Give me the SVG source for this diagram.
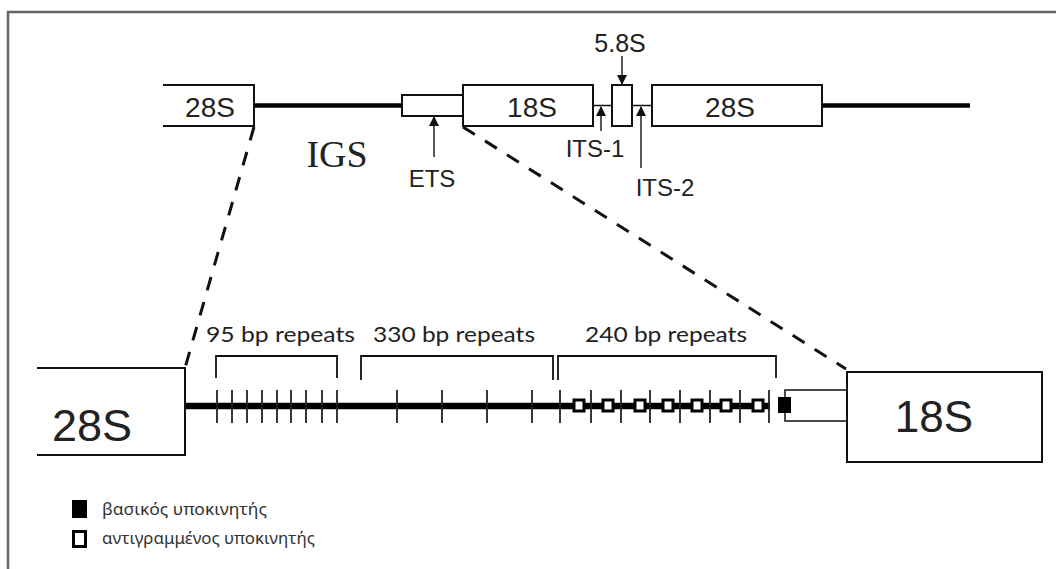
<svg xmlns="http://www.w3.org/2000/svg" width="1056" height="569" viewBox="0 0 1056 569">
<style>
.box{fill:#fff;stroke:#111;stroke-width:2}
.ln{fill:none;stroke:#111;stroke-width:2}
.thin{fill:none;stroke:#111;stroke-width:1.5}
.thick{stroke:#000;stroke-width:4.5}
.main{stroke:#000;stroke-width:6.5}
.tick{stroke:#222;stroke-width:1.8}
.dash{stroke:#111;stroke-width:3;stroke-dasharray:14 12;fill:none}
.arr{stroke:#222;stroke-width:1.5;fill:none;marker-end:url(#ah)}
.sans{font-family:"Liberation Sans",Arial,sans-serif;fill:#222}
.hum{font-family:Lato,"Open Sans",sans-serif;fill:#222}
.leg{font-family:"Noto Sans","DejaVu Sans",sans-serif;fill:#333;font-size:17px}
.rep{fill:#fff;stroke:#000;stroke-width:3}
</style>
<defs>
<marker id="ah" markerWidth="10" markerHeight="10" refX="9" refY="5" orient="auto" markerUnits="userSpaceOnUse">
<path d="M0,0 L10,5 L0,10 z" fill="#111"/>
</marker>
</defs>
<rect x="0" y="0" width="1056" height="569" fill="#fff"/>
<path d="M8,569 L8,12 L1056,12" fill="none" stroke="#666" stroke-width="2.5"/>

<g id="connectors">
<line class="thick" x1="254" y1="105.5" x2="402" y2="105.5"/>
<line class="thin" x1="593" y1="105.5" x2="612" y2="105.5"/>
<line class="thin" x1="632" y1="105.5" x2="652" y2="105.5"/>
<line class="thick" x1="822" y1="105.5" x2="970" y2="105.5"/>
<line class="dash" x1="254" y1="127" x2="185" y2="368"/>
<line class="dash" x1="463" y1="127" x2="846" y2="369"/>
<line class="arr" x1="434" y1="157" x2="434" y2="117"/>
<line class="arr" x1="601" y1="131" x2="601" y2="107"/>
<line class="arr" x1="641" y1="168" x2="641" y2="107"/>
<line class="arr" x1="622" y1="56" x2="622" y2="84"/>
<line class="main" x1="185" y1="406" x2="770" y2="406"/>
</g>

<g id="top-28S-left">
<path class="ln" d="M163,85 L254,85 L254,126 L163,126"/>
<text class="sans" x="210" y="117" font-size="28" text-anchor="middle">28S</text>
</g>
<g id="ETS">
<rect class="box" x="402" y="95" width="61" height="21"/>
<text class="sans" x="432" y="187" font-size="24" text-anchor="middle">ETS</text>
</g>
<g id="IGS">
<text x="337" y="167" font-family="'Liberation Serif','Times New Roman',serif" font-size="38" fill="#222" text-anchor="middle">IGS</text>
</g>
<g id="top-18S">
<rect class="box" x="463" y="85" width="130" height="41"/>
<text class="sans" x="532" y="117" font-size="28" text-anchor="middle">18S</text>
</g>
<g id="ITS-1">
<text class="sans" x="595" y="157" font-size="24" text-anchor="middle">ITS-1</text>
</g>
<g id="top-5.8S">
<rect class="box" x="612" y="85" width="20" height="41"/>
<text class="sans" x="620" y="52" font-size="25" text-anchor="middle">5.8S</text>
</g>
<g id="ITS-2">
<text class="sans" x="665" y="196" font-size="24" text-anchor="middle">ITS-2</text>
</g>
<g id="top-28S-right">
<rect class="box" x="652" y="85" width="170" height="41"/>
<text class="sans" x="730" y="117" font-size="28" text-anchor="middle">28S</text>
</g>

<g id="bottom-28S">
<path class="ln" d="M37,368 L185,368 L185,455 L37,455"/>
<text class="sans" x="92" y="441" font-size="45" text-anchor="middle">28S</text>
</g>

<g id="repeats-95">
<path class="ln" style="stroke-width:1.8" d="M216,378 L216,356 L337,356 L337,378"/>
<text class="hum" x="206" y="342" font-size="21" textLength="149" lengthAdjust="spacingAndGlyphs">95 bp repeats</text>
<g class="tick">
<line x1="217" y1="390" x2="217" y2="423"/><line x1="232" y1="390" x2="232" y2="423"/>
<line x1="247" y1="390" x2="247" y2="423"/><line x1="262" y1="390" x2="262" y2="423"/>
<line x1="277" y1="390" x2="277" y2="423"/><line x1="291" y1="390" x2="291" y2="423"/>
<line x1="306" y1="390" x2="306" y2="423"/><line x1="322" y1="390" x2="322" y2="423"/>
<line x1="337" y1="390" x2="337" y2="423"/>
</g>
</g>

<g id="repeats-330">
<path class="ln" style="stroke-width:1.8" d="M361,380 L361,356 L553,356 L553,380"/>
<text class="hum" x="373" y="342" font-size="21" textLength="162" lengthAdjust="spacingAndGlyphs">330 bp repeats</text>
<g class="tick">
<line x1="397" y1="390" x2="397" y2="423"/><line x1="442" y1="390" x2="442" y2="423"/>
<line x1="487" y1="390" x2="487" y2="423"/><line x1="532" y1="390" x2="532" y2="423"/>
</g>
</g>

<g id="repeats-240">
<path class="ln" style="stroke-width:1.8" d="M558,380 L558,356 L776,356 L776,378"/>
<text class="hum" x="585" y="342" font-size="21" textLength="162" lengthAdjust="spacingAndGlyphs">240 bp repeats</text>
<g class="tick">
<line x1="560" y1="390" x2="560" y2="423"/><line x1="591" y1="390" x2="591" y2="423"/>
<line x1="621" y1="390" x2="621" y2="423"/><line x1="650" y1="390" x2="650" y2="423"/>
<line x1="680" y1="390" x2="680" y2="423"/><line x1="710" y1="390" x2="710" y2="423"/>
<line x1="740" y1="390" x2="740" y2="423"/><line x1="769" y1="390" x2="769" y2="423"/>
</g>
<g class="rep">
<rect x="574" y="400" width="10" height="11"/><rect x="603" y="400" width="10" height="11"/>
<rect x="635" y="400" width="10" height="11"/><rect x="663" y="400" width="10" height="11"/>
<rect x="692" y="400" width="10" height="11"/><rect x="721" y="400" width="10" height="11"/>
<rect x="753" y="400" width="10" height="11"/>
</g>
</g>

<g id="bottom-18S">
<path class="thin" d="M847,390 L785,390 L785,421 L847,421"/>
<rect x="778" y="397" width="13" height="16" fill="#000"/>
<rect class="box" x="847" y="372" width="195" height="90"/>
<text class="sans" x="934" y="432" font-size="44" text-anchor="middle">18S</text>
</g>

<g id="legend">
<rect x="72" y="500" width="15" height="18" fill="#000"/>
<text class="leg" x="102" y="515" textLength="165" lengthAdjust="spacingAndGlyphs">βασικός υποκινητής</text>
<rect x="73.5" y="531.5" width="12" height="15" fill="#fff" stroke="#000" stroke-width="3"/>
<text class="leg" x="102" y="544" textLength="213" lengthAdjust="spacingAndGlyphs">αντιγραμμένος υποκινητής</text>
</g>
</svg>
